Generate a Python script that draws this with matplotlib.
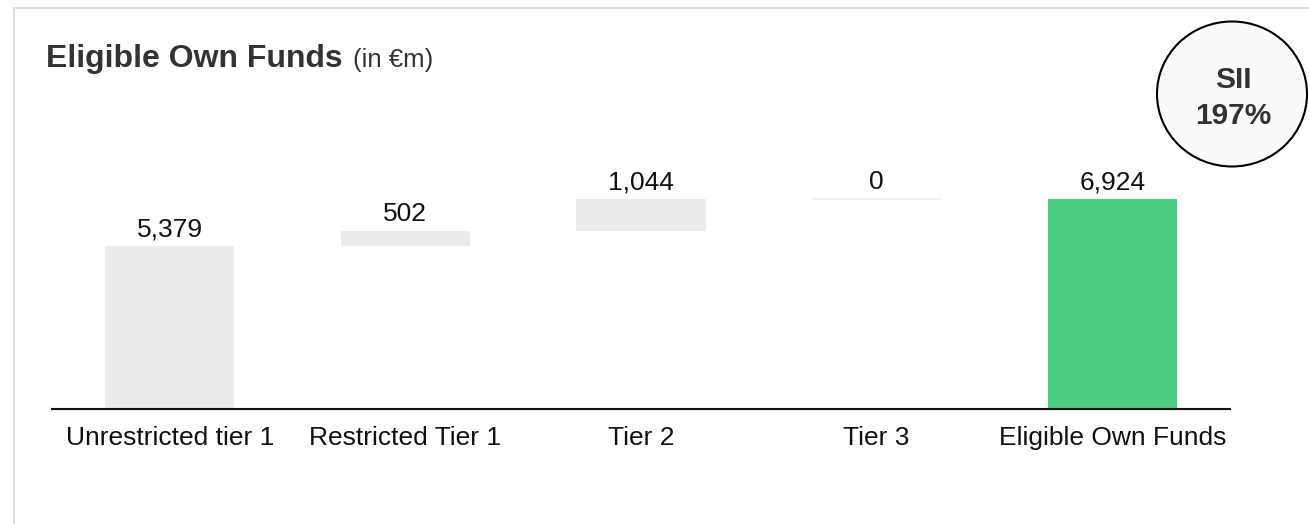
import numpy as np
from matplotlib import pyplot as plt
from matplotlib.patches import Ellipse, Rectangle

plt.rcParams['font.family'] = ['Liberation Sans', 'DejaVu Sans']

# data
categories = ["Unrestricted tier 1", "Restricted Tier 1", "Tier 2", "Tier 3", "Eligible Own Funds"]
values = [5379, 502, 1044, 0, 6924]
labels = ["5,379", "502", "1,044", "0", "6,924"]
ratio_label = "SII"
ratio_value = "197%"

# waterfall bottoms: steps stack on each other, the total starts at zero
steps = np.array(values[:-1])
bottoms = list(np.concatenate([[0], np.cumsum(steps)[:-1]])) + [0]
colors = ["#ebebeb", "#ebebeb", "#ebebeb", "#eeeeee", "#4bcd82"]
edge_w = [0, 0, 0, 1.5, 0]

W, H = 1309, 524
fig = plt.figure(figsize=(W / 100, H / 100), dpi=100)
ax = fig.add_axes([52 / W, (H - 409) / H, 1178 / W, 279 / H])

x = np.arange(len(categories))
ax.bar(x, values, bottom=bottoms, width=0.548, color=colors,
       edgecolor=colors, linewidth=edge_w, zorder=2)

for xi, v, b, lab in zip(x, values, bottoms, labels):
    ax.annotate(lab, (xi, v + b), xytext=(0, 7), textcoords="offset points",
                ha="center", va="baseline", fontsize=19, color="#111111")

ax.set_xlim(-0.5, 4.5)
ax.set_ylim(0, 9200)
ax.set_xticks(x)
ax.set_xticklabels(categories, fontsize=19, color="#111111")
ax.tick_params(axis="x", length=0, pad=12)
ax.set_yticks([])
for s in ["top", "left", "right"]:
    ax.spines[s].set_visible(False)
ax.spines["bottom"].set_linewidth(1.5)
ax.spines["bottom"].set_color("#111111")

# title
fig.text(46 / W, (H - 67) / H, "Eligible Own Funds", fontsize=23,
         fontweight="bold", color="#333333", va="baseline")
fig.text(353 / W, (H - 67) / H, "(in €m)", fontsize=18.5,
         color="#333333", va="baseline")

# ratio bubble
fig.add_artist(Ellipse((1232 / W, (H - 94) / H), 150 / W, 145 / H,
                       transform=fig.transFigure, facecolor="#fafafa",
                       edgecolor="black", linewidth=1.5))
fig.text(1233 / W, (H - 88) / H, ratio_label, fontsize=21.5, fontweight="bold",
         color="#333333", ha="center", va="baseline")
fig.text(1233 / W, (H - 124) / H, ratio_value, fontsize=21.5, fontweight="bold",
         color="#333333", ha="center", va="baseline")

# card border (left and top edges visible)
fig.add_artist(Rectangle((14 / W, -0.2), 1.2, (H - 8) / H + 0.2,
                         transform=fig.transFigure, fill=False,
                         edgecolor="#dddddd", linewidth=1.5, clip_on=False))

plt.savefig("out.png", dpi=100)
